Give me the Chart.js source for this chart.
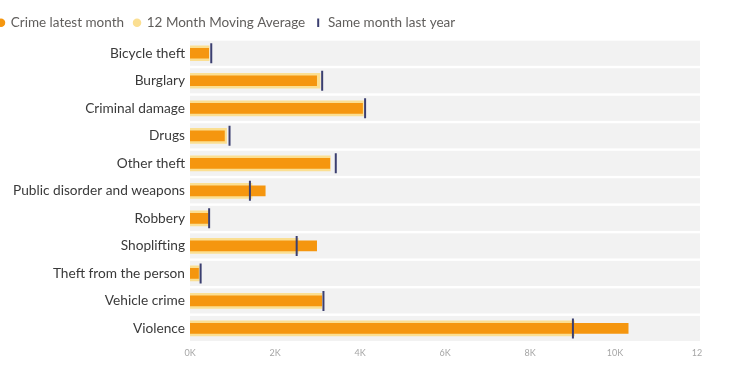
<!DOCTYPE html>
<html>
<head>
<meta charset="utf-8">
<script src="https://cdn.jsdelivr.net/npm/chart.js@4.4.0/dist/chart.umd.js"></script>
<style>
  html, body { margin: 0; padding: 0; background: #fff; overflow: hidden; }
  #wrap { position: relative; width: 746px; height: 392px; }
  #chart { position: absolute; left: -12px; top: 0; }
</style>
</head>
<body>
<div id="wrap"><canvas id="chart" width="715" height="392"></canvas></div>
<script>
// categorie e valori
const categories = [
    'Bicycle theft', 'Burglary', 'Criminal damage', 'Drugs', 'Other theft',
    'Public disorder and weapons', 'Robbery', 'Shoplifting',
    'Theft from the person', 'Vehicle crime', 'Violence'
];
const latestMonth = [440, 2980, 4060, 810, 3290, 1770, 430, 2980, 200, 3100, 10310];
const movingAverage = [450, 3060, 4080, 860, 3300, 1460, 440, 2550, 220, 3100, 9050];
const sameMonthLastYear = [500, 3110, 4120, 930, 3430, 1410, 450, 2510, 250, 3140, 9010];
const xTicks = [0, 2000, 4000, 6000, 8000, 10000, 12000];

const FONT = "Lato, 'Segoe UI', 'Liberation Sans', sans-serif";

// fasce grigie dietro ogni categoria
const bandsPlugin = {
    id: 'bands',
    beforeDatasetsDraw(chart) {
        const { ctx, chartArea, scales } = chart;
        const y = scales.y;
        const step = (y.getPixelForValue(1) - y.getPixelForValue(0));
        ctx.save();
        ctx.fillStyle = '#f2f2f2';
        categories.forEach((c, i) => {
            const cy = y.getPixelForValue(i);
            ctx.fillRect(chartArea.left, cy - step / 2 + 1.2, chartArea.right - chartArea.left, step - 2.4);
        });
        ctx.restore();
    }
};

new Chart(document.getElementById('chart').getContext('2d'), {
    type: 'bar',
    data: {
        labels: categories,
        datasets: [
            {
                label: 'Crime latest month',
                data: latestMonth,
                backgroundColor: '#f5960f',
                barThickness: 10,
                grouped: false,
                order: 1
            },
            {
                label: '12 Month Moving Average',
                data: movingAverage,
                backgroundColor: '#fbdf92',
                barThickness: 15,
                grouped: false,
                order: 2
            },
            {
                type: 'line',
                label: 'Same month last year',
                data: sameMonthLastYear,
                indexAxis: 'y',
                showLine: false,
                borderColor: '#3b3f70',
                backgroundColor: '#3b3f70',
                pointStyle: 'line',
                pointRotation: 90,
                pointRadius: 10,
                pointHoverRadius: 10,
                pointBorderWidth: 2,
                pointBorderColor: '#3b3f70',
                order: 0
            }
        ]
    },
    options: {
        indexAxis: 'y',
        responsive: false,
        animation: false,
        layout: { autoPadding: false, padding: { top: 6, bottom: 29, left: 0, right: 3 } },
        plugins: {
            tooltip: { enabled: false },
            legend: {
                position: 'top',
                align: 'start',
                labels: {
                    usePointStyle: true,
                    boxWidth: 6,
                    boxHeight: 6,
                    padding: 10,
                    color: '#605e5c',
                    font: { family: FONT, size: 13.5 },
                    sort: (a, b) => a.datasetIndex - b.datasetIndex
                }
            }
        },
        scales: {
            x: {
                min: 0,
                max: 12000,
                afterBuildTicks(scale) {
                    scale.ticks = xTicks.map(v => ({ value: v }));
                },
                afterFit(scale) {
                    scale.paddingLeft = 0;
                    scale.paddingRight = 0;
                },
                grid: { display: false, drawTicks: false },
                border: { display: false },
                ticks: {
                    padding: 5,
                    color: '#a6a6a6',
                    font: { family: FONT, size: 9 },
                    maxRotation: 0,
                    callback: v => (v / 1000) + 'K'
                }
            },
            y: {
                afterFit(scale) {
                    scale.width = 202;
                },
                grid: { display: false, drawTicks: false },
                border: { display: false },
                ticks: {
                    padding: 5,
                    color: '#3a3a3a',
                    font: { family: FONT, size: 13.7 }
                }
            }
        }
    },
    plugins: [bandsPlugin]
});
</script>
</body>
</html>
